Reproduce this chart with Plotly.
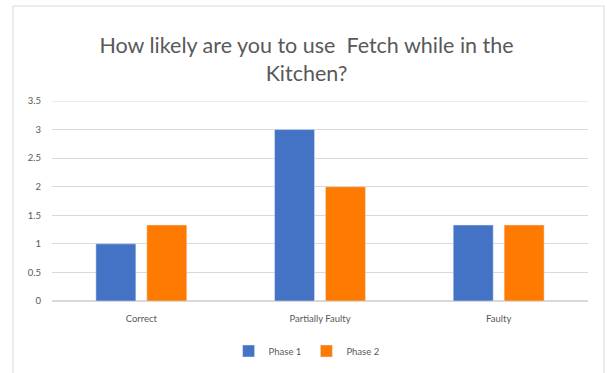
import plotly.graph_objects as go

categories = ["Correct", "Partially Faulty", "Faulty"]
phase1 = [1.0, 3.0, 1.33]
phase2 = [1.33, 2.0, 1.33]
series_names = ["Phase 1", "Phase 2"]
title_text = "How likely are you to use  Fetch while in the<br>Kitchen?"

W, H = 607, 373
L, R, T, B = 52, 19, 101, 72
pw, ph = W - L - R, H - T - B

def px_x(x):
    return (x - L) / pw

def px_y(y):
    return (H - B - y) / ph

font_family = "Lato, 'Open Sans', sans-serif"
fig = go.Figure()
fig.add_trace(go.Bar(x=categories, y=phase1, name=series_names[0], marker_color="#4472C4"))
fig.add_trace(go.Bar(x=categories, y=phase2, name=series_names[1], marker_color="#FF7A00"))

fig.update_layout(
    width=W, height=H,
    margin=dict(l=L, r=R, t=T, b=B, autoexpand=False),
    paper_bgcolor="white", plot_bgcolor="white",
    font=dict(family=font_family, color="#595959", size=9.5),
    title=dict(text=title_text, x=0.505, xanchor="center", y=1 - 53 / H, yanchor="middle",
               font=dict(size=21.5, color="#595959", family=font_family)),
    bargap=0.43, bargroupgap=0.215,
    showlegend=True,
    legend=dict(orientation="h", x=0.475, xanchor="center", y=px_y(351), yanchor="middle",
                font=dict(size=9.5, color="#595959"), itemwidth=30, traceorder="normal"),
    xaxis=dict(showgrid=False, showline=False, ticks="", tickfont=dict(size=9.5, color="#595959"),
               ticklabelstandoff=10),
    yaxis=dict(range=[0, 3.5], dtick=0.5, showgrid=True, gridcolor="#d9d9d9", gridwidth=1,
               zeroline=True, zerolinecolor="#d9d9d9", showline=False, ticks="",
               tickfont=dict(size=9.5, color="#595959"), ticklabelstandoff=10),
    shapes=[dict(type="rect", xref="paper", yref="paper",
                 x0=px_x(13), x1=px_x(604), y0=px_y(385), y1=px_y(6),
                 line=dict(color="#d9d9d9", width=1), fillcolor="rgba(0,0,0,0)", layer="below"),
            dict(type="line", xref="paper", yref="y", x0=0, x1=1, y0=3.5, y1=3.5,
                 line=dict(color="#d9d9d9", width=1), layer="below")],
)
fig.write_html("out.html")
